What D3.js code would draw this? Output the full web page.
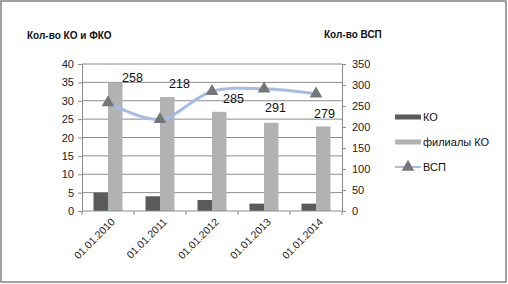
<!DOCTYPE html>
<html><head><meta charset="utf-8">
<script src="https://cdn.jsdelivr.net/npm/d3@7"></script>
<style>body{margin:0;background:#fff;} svg{display:block;} text{font-family:"Liberation Sans",Arial,sans-serif;}</style>
</head><body>
<svg id="c" width="508" height="284"></svg>
<script>
const categories = ["01.01.2010","01.01.2011","01.01.2012","01.01.2013","01.01.2014"];
const koValues = [5, 4, 3, 2, 2];
const filialValues = [35, 31, 27, 24, 23];
const vspValues = [258, 218, 285, 291, 279];
const leftTicks = [0,5,10,15,20,25,30,35,40];
const rightTicks = [0,50,100,150,200,250,300,350];
const seriesNames = ["КО","филиалы КО","ВСП"];
// label offsets (layout only) relative to marker
const labelOffsets = [[14,-21],[9,-31],[11,12],[1,23],[-2,24]];

const svg = d3.select("#c");
svg.append("rect").attr("x",1).attr("y",1).attr("width",505).attr("height",281)
  .attr("fill","#fff").attr("stroke","#8a8a8a").attr("stroke-width",1.6);

const L=82, R=342, T=64, B=211;
const x = d3.scaleBand().domain(categories).range([L,R]);
const xi = d3.scaleBand().domain(["ko","fil"]).range([0,29]);
const yL = d3.scaleLinear().domain([0,40]).range([B,T]);
const yR = d3.scaleLinear().domain([0,350]).range([B,T]);

// gridlines
svg.append("g").selectAll("line").data(leftTicks.filter(d=>d>0)).join("line")
  .attr("x1",L).attr("x2",R).attr("y1",d=>yL(d)).attr("y2",d=>yL(d))
  .attr("stroke","#8c8c8c").attr("stroke-width",1);

// bars
const g = svg.append("g");
const off = (x.bandwidth()-29)/2;
g.selectAll(".ko").data(koValues).join("rect")
  .attr("x",(d,i)=>x(categories[i])+off+xi("ko")).attr("width",xi.bandwidth())
  .attr("y",d=>yL(d)).attr("height",d=>B-yL(d)).attr("fill","#5a5a5a");
g.selectAll(".fil").data(filialValues).join("rect")
  .attr("x",(d,i)=>x(categories[i])+off+xi("fil")).attr("width",xi.bandwidth())
  .attr("y",d=>yL(d)).attr("height",d=>B-yL(d)).attr("fill","#b2b2b2");

// axes
const axL = svg.append("g").attr("transform",`translate(${L},0)`)
  .call(d3.axisLeft(yL).tickValues(leftTicks).tickSize(4).tickPadding(4));
const axR = svg.append("g").attr("transform",`translate(${R},0)`)
  .call(d3.axisRight(yR).tickValues(rightTicks).tickSize(4).tickPadding(6));
[axL,axR].forEach(a=>{
  a.select(".domain").attr("stroke","#8c8c8c");
  a.selectAll(".tick line").attr("stroke","#8c8c8c");
  a.selectAll("text").attr("font-size",11).attr("fill","#222").attr("font-family","Liberation Sans, Arial, sans-serif");
});
// x axis
svg.append("line").attr("x1",L).attr("x2",R).attr("y1",B).attr("y2",B).attr("stroke","#8c8c8c");
const bounds = categories.map(c=>x(c)).concat([R]);
svg.append("g").selectAll("line").data(bounds).join("line")
  .attr("x1",d=>d).attr("x2",d=>d).attr("y1",B).attr("y2",B+4).attr("stroke","#8c8c8c");
svg.append("g").selectAll("text").data(categories).join("text")
  .attr("transform",d=>`translate(${x(d)+x.bandwidth()/2+5},${B+9}) rotate(-45)`)
  .attr("text-anchor","end").attr("dy","0.35em")
  .attr("font-size",10.5).attr("fill","#222").text(d=>d);

// line
const cx = (i)=>x(categories[i])+x.bandwidth()/2;
const line = d3.line().x((d,i)=>cx(i)).y(d=>yR(d)).curve(d3.curveCatmullRom.alpha(0.5));
svg.append("path").datum(vspValues).attr("d",line).attr("fill","none")
  .attr("stroke","#a5bce8").attr("stroke-width",3);
const tri = d3.symbol().type(d3.symbolTriangle).size(70);
svg.append("g").selectAll("path").data(vspValues).join("path")
  .attr("d",tri).attr("transform",(d,i)=>`translate(${cx(i)},${yR(d)})`)
  .attr("fill","#767676");
svg.append("g").selectAll("text").data(vspValues).join("text")
  .attr("x",(d,i)=>cx(i)+labelOffsets[i][0]).attr("y",(d,i)=>yR(d)+labelOffsets[i][1])
  .attr("font-size",12.5).attr("fill","#111").text(d=>d);

// titles
svg.append("text").attr("x",27).attr("y",39).attr("font-size",10).attr("font-weight","bold").attr("fill","#111").text("Кол-во КО и ФКО");
svg.append("text").attr("x",324).attr("y",38).attr("font-size",10).attr("font-weight","bold").attr("fill","#111").text("Кол-во ВСП");

// legend
const lg = svg.append("g");
const ly = [117,142,167];
lg.append("rect").attr("x",395).attr("y",ly[0]-2.5).attr("width",26).attr("height",5).attr("fill","#5a5a5a");
lg.append("rect").attr("x",395).attr("y",ly[1]-2.5).attr("width",26).attr("height",5).attr("fill","#b2b2b2");
lg.append("line").attr("x1",395).attr("x2",421).attr("y1",ly[2]).attr("y2",ly[2]).attr("stroke","#a5bce8").attr("stroke-width",2);
lg.append("path").attr("d",tri).attr("transform",`translate(408,${ly[2]})`).attr("fill","#767676");
lg.selectAll("text").data(seriesNames).join("text")
  .attr("x",423).attr("y",(d,i)=>ly[i]).attr("dy","0.35em").attr("font-size",11).attr("fill","#111").text(d=>d);
</script>
</body></html>
